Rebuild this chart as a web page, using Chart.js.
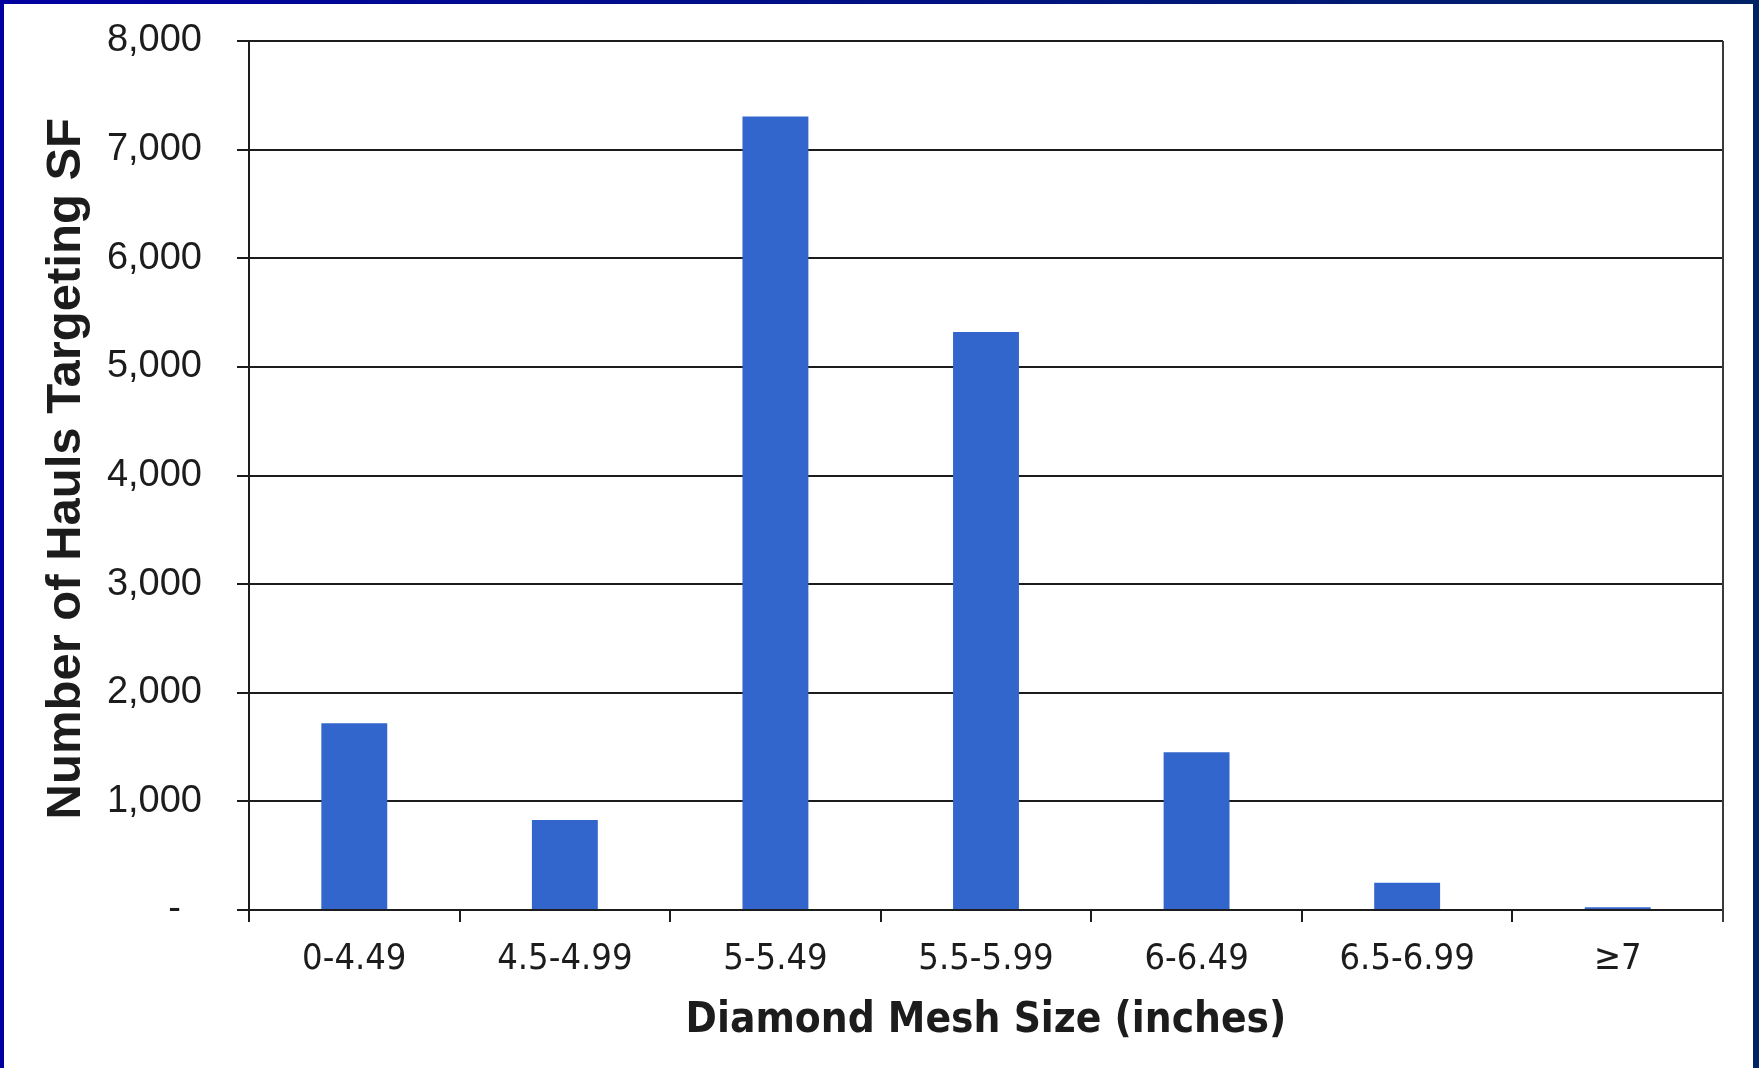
<!DOCTYPE html>
<html>
<head>
<meta charset="utf-8">
<title>Diamond Mesh Size</title>
<script src="https://cdn.jsdelivr.net/npm/chart.js@4/dist/chart.umd.min.js"></script>
<style>
  html, body { margin: 0; padding: 0; }
  body {
    width: 1759px; height: 1068px; overflow: hidden;
    background: linear-gradient(to right, #0000a0, #002266);
    position: relative;
  }
  #frame {
    position: absolute; left: 4px; top: 4px; right: 6px; bottom: 0;
    background: #ffffff;
  }
  #frame canvas { display: block; }
</style>
</head>
<body>
<div id="frame"><canvas id="chart"></canvas></div>
<script>
// Hauls targeting SF, binned by diamond mesh size (inches)
const meshSizes = ['0-4.49', '4.5-4.99', '5-5.49', '5.5-5.99', '6-6.49', '6.5-6.99', '\u22657'];
const haulCounts = [1720, 828, 7305, 5322, 1452, 252, 25];
const yTicks = [0, 1000, 2000, 3000, 4000, 5000, 6000, 7000, 8000];

const ink = '#1c1c1c';

// Closes the plot area with a rule on its right-hand side
const rightEdge = {
  id: 'rightEdge',
  afterDraw(chart) {
    const { ctx, chartArea } = chart;
    ctx.save();
    ctx.strokeStyle = '#3a3a3a';
    ctx.lineWidth = 2;
    ctx.beginPath();
    ctx.moveTo(chartArea.right, chartArea.top);
    ctx.lineTo(chartArea.right, chartArea.bottom + 12);
    ctx.stroke();
    ctx.restore();
  }
};

new Chart(document.getElementById('chart'), {
  type: 'bar',
  data: {
    labels: meshSizes,
    datasets: [{
      data: haulCounts,
      backgroundColor: '#3366cc',
      borderWidth: 0,
      categoryPercentage: 1,
      barPercentage: 0.313
    }]
  },
  options: {
    responsive: true,
    maintainAspectRatio: false,
    animation: false,
    layout: { padding: { top: 37, right: 30, left: 0, bottom: 0 } },
    plugins: { legend: { display: false }, tooltip: { enabled: false } },
    scales: {
      x: {
        grid: { drawOnChartArea: false, drawTicks: true, tickLength: 12, color: ink, lineWidth: 2 },
        border: { color: ink, width: 2 },
        ticks: {
          color: ink,
          padding: 16,
          font: { family: "'DejaVu Sans Condensed', 'Noto Sans', sans-serif", size: 36 }
        },
        title: {
          display: true,
          text: 'Diamond Mesh Size (inches)',
          color: ink,
          padding: { top: 0, bottom: 22 },
          font: { family: "'DejaVu Sans Condensed', 'Noto Sans', sans-serif", size: 42, weight: 'bold' }
        },
        afterFit(scale) { scale.height = 158; }
      },
      y: {
        min: 0,
        max: 8000,
        afterBuildTicks(scale) { scale.ticks = yTicks.map(v => ({ value: v })); },
        grid: { color: ink, lineWidth: 2, tickLength: 12, drawTicks: true },
        border: { color: ink, width: 2 },
        ticks: {
          color: ink,
          padding: 35,
          font: { family: "'Liberation Sans', Arial, sans-serif", size: 38 },
          callback: v => v === 0 ? '-  ' : v.toLocaleString('en-US')
        },
        title: {
          display: true,
          text: ' Number of Hauls Targeting SF',
          color: ink,
          padding: { top: 33, bottom: 0 },
          font: { family: "'Liberation Sans', Arial, sans-serif", size: 49, weight: 'bold' }
        },
        afterFit(scale) {
          scale.width = 245;
          // the end labels fit inside the padding already reserved around the plot
          scale.paddingTop = 0;
          scale.paddingBottom = 0;
        }
      }
    }
  },
  plugins: [rightEdge]
});
</script>
</body>
</html>
